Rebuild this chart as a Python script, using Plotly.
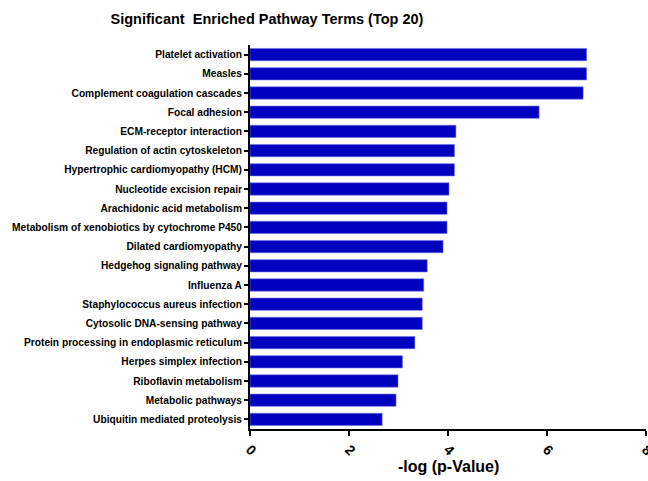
import plotly.graph_objects as go

pathways = [
    "Platelet activation",
    "Measles",
    "Complement coagulation cascades",
    "Focal adhesion",
    "ECM-receptor interaction",
    "Regulation of actin cytoskeleton",
    "Hypertrophic cardiomyopathy (HCM)",
    "Nucleotide excision repair",
    "Arachidonic acid metabolism",
    "Metabolism of xenobiotics by cytochrome P450",
    "Dilated cardiomyopathy",
    "Hedgehog signaling pathway",
    "Influenza A",
    "Staphylococcus aureus infection",
    "Cytosolic DNA-sensing pathway",
    "Protein processing in endoplasmic reticulum",
    "Herpes simplex infection",
    "Riboflavin metabolism",
    "Metabolic pathways",
    "Ubiquitin mediated proteolysis",
]
neg_log_p = [6.80, 6.80, 6.73, 5.84, 4.16, 4.13, 4.13, 4.02, 3.98, 3.98,
             3.90, 3.58, 3.51, 3.48, 3.48, 3.33, 3.08, 2.99, 2.95, 2.67]
x_ticks = [0, 2, 4, 6, 8]

fig = go.Figure(go.Bar(
    x=neg_log_p,
    y=pathways,
    orientation="h",
    width=0.64,
    marker=dict(color="#0000BE", line=dict(color="#6F6FE6", width=0.6)),
))

fig.update_layout(
    width=648, height=481,
    margin=dict(l=250, r=2, t=45, b=52),
    paper_bgcolor="white", plot_bgcolor="white",
    font=dict(family="Liberation Sans, Arial, sans-serif", color="black"),
    title=dict(text="<b>Significant  Enriched Pathway Terms (Top 20)</b>",
               x=267/648, xanchor="center", y=1-18.5/481, yanchor="middle",
               font=dict(size=14.5, color="black")),
    showlegend=False,
    annotations=[dict(text="<b>-log (p-Value)</b>", xref="paper", yref="paper",
                      x=0.5, y=-(466-429)/384, yanchor="middle", xanchor="center",
                      showarrow=False, font=dict(size=16, color="black"))],
)
fig.update_xaxes(
    range=[0, 8], tickvals=x_ticks, ticktext=[f"<b>{v}</b>" for v in x_ticks],
    tickangle=45, tickfont=dict(size=14), automargin=False,
    ticklabeloverflow="allow",
    showline=True, linecolor="black", linewidth=2,
    ticks="outside", ticklen=5, tickwidth=2, tickcolor="black",
    showgrid=False, zeroline=False,
)
fig.update_yaxes(
    categoryorder="array", categoryarray=pathways[::-1],
    tickvals=pathways, ticktext=[f"<b>{p}</b>" for p in pathways],
    tickfont=dict(size=10.2), automargin=False,
    showline=True, linecolor="black", linewidth=2,
    ticks="outside", ticklen=4, tickwidth=2, tickcolor="black",
    showgrid=False, zeroline=False,
    range=[-0.5, 19.5],
)

fig.write_html(
    "out.html",
    config={"displayModeBar": False},
    post_script="document.body.style.margin='0';document.body.style.overflow='hidden';",
)
